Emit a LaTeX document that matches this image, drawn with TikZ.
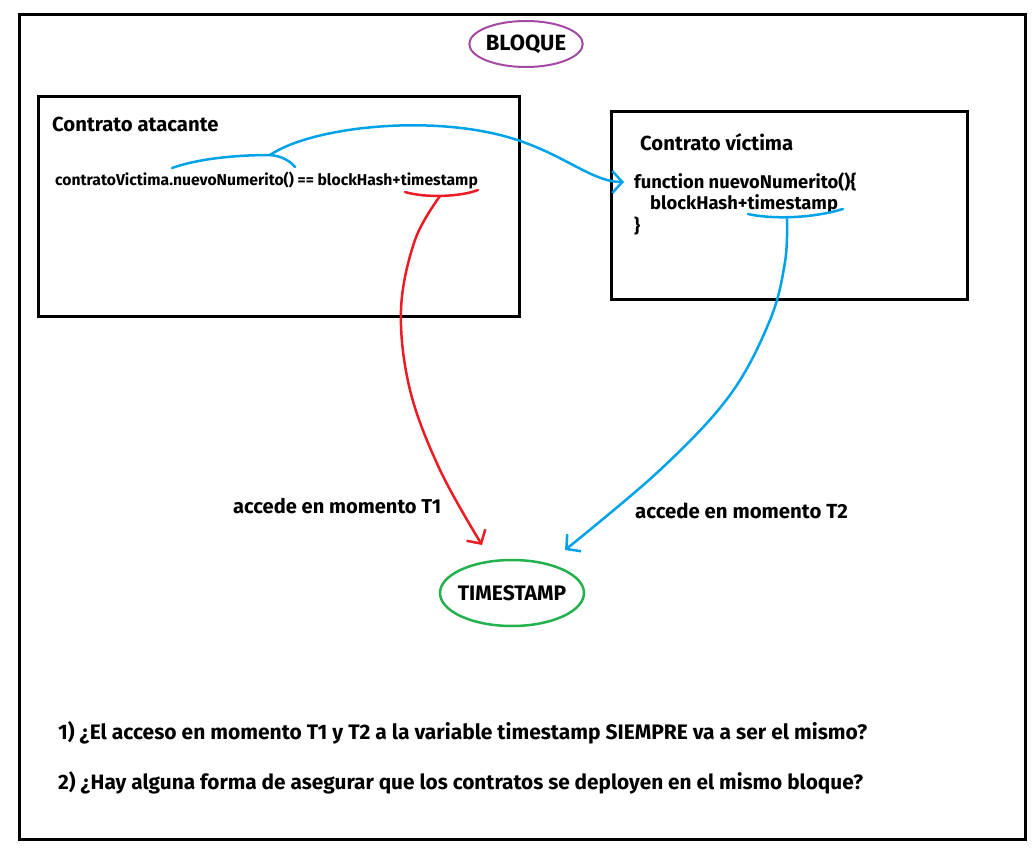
\documentclass[tikz,border=0pt]{standalone}
\usepackage{fontspec}
\setmainfont{Fira Sans}
\usetikzlibrary{arrows.meta,shapes.geometric}
\definecolor{bluel}{HTML}{00A2E8}
\definecolor{redl}{HTML}{ED1C24}
\definecolor{greenl}{HTML}{22B14C}
\definecolor{purp}{HTML}{A349A4}
\begin{document}
\begin{tikzpicture}[x=1pt,y=-1pt,
  box/.style={draw,line width=3pt,anchor=north west,inner sep=0pt},
  lbl/.style={font=\bfseries, inner sep=0pt, anchor=west},
  hand/.style={line width=2.5pt, line cap=round, line join=round},
  tip/.style={-{Straight Barb[length=10pt,width=22pt,line width=2.5pt]}}]
\useasboundingbox (0,0) rectangle (1036,850);
\node[box, minimum width=1006pt, minimum height=825pt] (frame) at (18,13) {};
\node[box, minimum width=481pt, minimum height=220pt] (att) at (37,95) {};
\node[box, minimum width=356pt, minimum height=188pt] (vic) at (610,110) {};
\node[draw=purp, line width=2pt, ellipse, minimum width=110pt, minimum height=46pt, inner sep=0pt, font=\bfseries\fontsize{22}{26}\selectfont] (bloque) at (526,44) {BLOQUE};
\node[draw=greenl, line width=2.5pt, ellipse, minimum width=144pt, minimum height=66pt, inner sep=0pt, inner xsep=-10pt, font=\bfseries\fontsize{21}{25}\selectfont] (ts) at (512,593) {TIMESTAMP};
\node[lbl, font=\bfseries\fontsize{20.3}{24}\selectfont] (attT) at (52,124) {Contrato atacante};
\node[lbl, font=\bfseries\fontsize{15.7}{18}\selectfont] (attC) at (55,181) {contratoVictima.nuevoNumerito() == blockHash+timestamp};
\node[lbl, font=\bfseries\fontsize{20.3}{24}\selectfont] (vicT) at (640,142) {Contrato víctima};
\node[lbl, font=\bfseries\fontsize{18.4}{22}\selectfont] (fn) at (634,182) {function nuevoNumerito()\{};
\node[lbl, font=\bfseries\fontsize{18.4}{22}\selectfont] (bh) at (650,204) {blockHash+timestamp};
\node[lbl, font=\bfseries\fontsize{18.4}{22}\selectfont] (cb) at (634,226) {\}};
\node[lbl, font=\bfseries\fontsize{20.1}{24}\selectfont] (t1) at (233,506) {accede en momento T1};
\node[lbl, font=\bfseries\fontsize{20.4}{24}\selectfont] (t2) at (635,511) {accede en momento T2};
\node[lbl, font=\bfseries\fontsize{21}{25}\selectfont] (q1) at (58,733) {1) ¿El acceso en momento T1 y T2 a la variable timestamp SIEMPRE va a ser el mismo?};
\node[lbl, font=\bfseries\fontsize{20.8}{25}\selectfont] (q2) at (58,783) {2) ¿Hay alguna forma de asegurar que los contratos se deployen en el mismo bloque?};
% brace coordinates
\coordinate (lbA) at (172,168);
\coordinate (lbM) at (270,155);
\coordinate (lbB) at (295,167);
\coordinate (rbA) at (405,192);
\coordinate (rbM) at (440,196);
\coordinate (rbB) at (478,190);
\coordinate (vbA) at (748,214);
\coordinate (vbM) at (787,219);
\coordinate (vbB) at (843,209);
\coordinate (fnIn) at ([xshift=-10pt]fn.west);
\coordinate (tsL) at (482,545);
\coordinate (tsR) at (565,550);
% braces
\draw[hand,bluel] (lbA) .. controls (200,158) and (240,155) .. (lbM) .. controls (282,156) and (290,161) .. (lbB);
\draw[hand,redl] (rbA) .. controls (425,198) and (460,197) .. (rbB);
\draw[hand,bluel] (vbA) .. controls (770,219) and (810,219) .. (vbB);
% connectors
\draw[hand,bluel,tip] (lbM) .. controls (310,128) and (420,115) .. (500,135) .. controls (560,150) and (590,182) .. (fnIn);
\draw[hand,redl,tip] plot[smooth,tension=0.6] coordinates {(rbM) (415,240) (401,310) (410,390) (440,470) (tsL)};
\draw[hand,bluel,tip] plot[smooth,tension=0.6] coordinates {(vbM) (785,262) (770,320) (730,395) (660,470) (tsR)};
\end{tikzpicture}
\end{document}
